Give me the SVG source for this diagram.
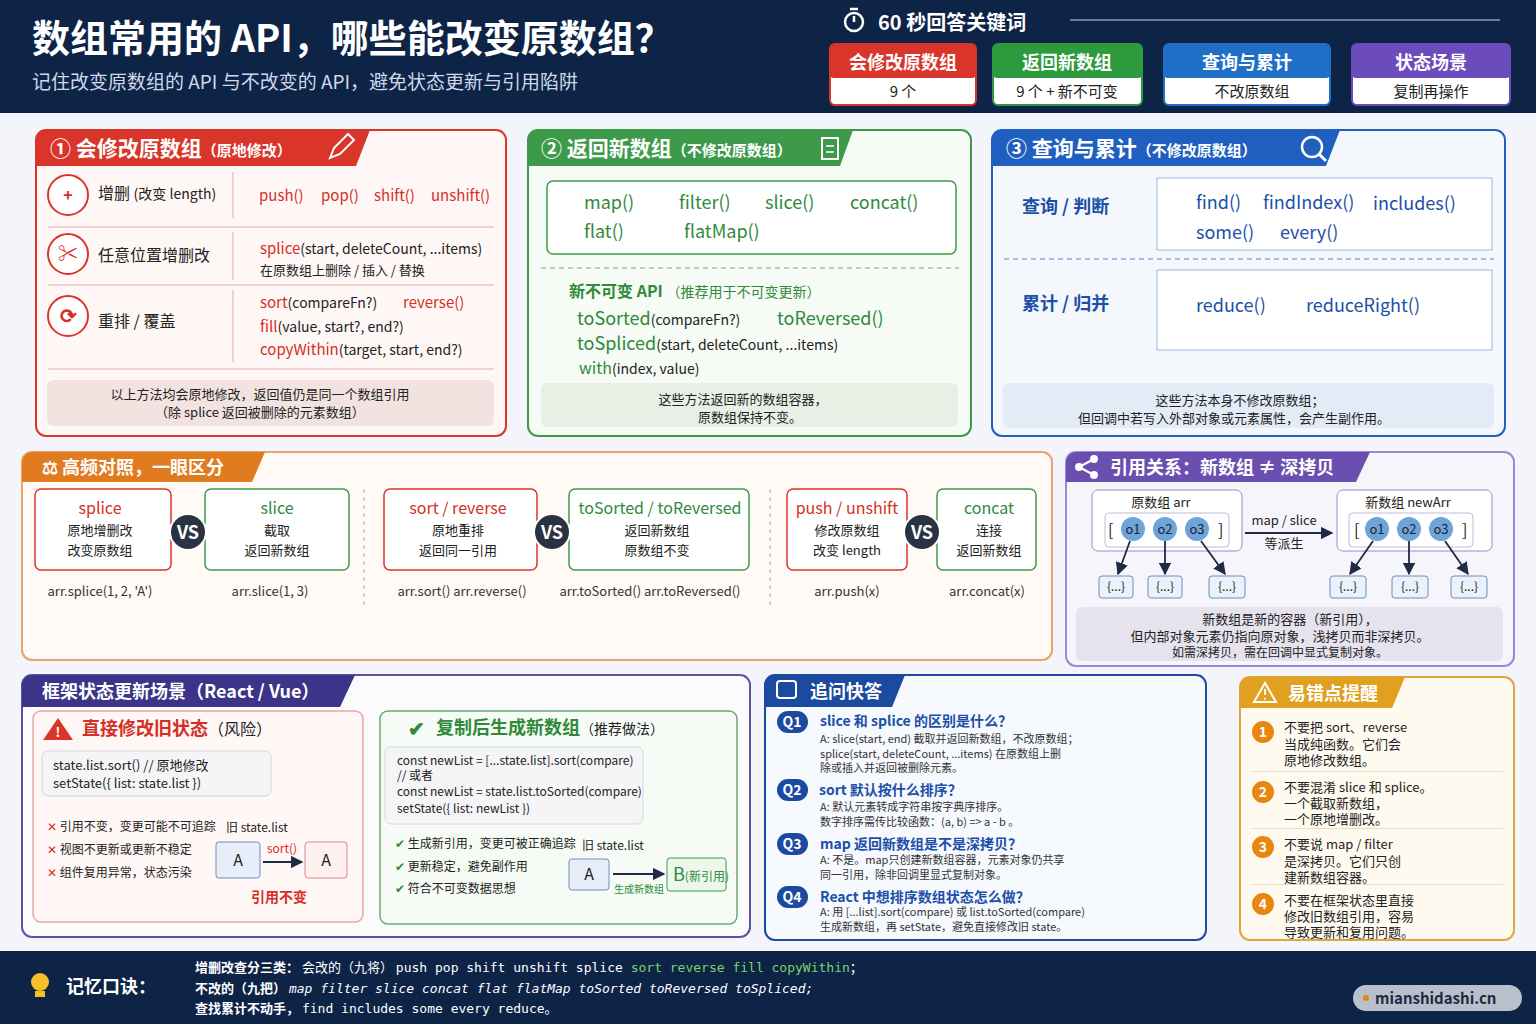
<svg xmlns="http://www.w3.org/2000/svg" width="1536" height="1024" viewBox="0 0 1536 1024">
<defs>
<style>
text{font-family:"Noto Sans CJK SC","Noto Sans",sans-serif;}
.w{fill:#fff}.b{font-weight:bold}
.r{fill:#d42f25}.g{fill:#2f8a3a}.bl{fill:#1c4fa8}.k{fill:#222}.dk{fill:#333}
.m{font-family:"DejaVu Sans Mono","Noto Sans CJK SC",monospace}
.s12{font-size:12px}.s13{font-size:13px}.s14{font-size:14px}.s15{font-size:15px}.s16{font-size:16px}.s18{font-size:18px}.s20{font-size:20px}
.mid{text-anchor:middle}
.note{fill:#f3e3e0}
</style>
<marker id="ar" viewBox="0 0 10 10" refX="9" refY="5" markerWidth="7" markerHeight="7" orient="auto"><path d="M0,0L10,5L0,10z" fill="#1f2a44"/></marker>
</defs>
<rect width="1536" height="1024" fill="#f3f5fa"/>
<g id="header">
<rect width="1536" height="113" fill="#0e2447"/>
<text x="32" y="52" class="w b" font-size="38">数组常用的 API，哪些能改变原数组？</text>
<text x="32" y="89" font-size="19" fill="#cfd8ea">记住改变原数组的 API 与不改变的 API，避免状态更新与引用陷阱</text>
<circle cx="854" cy="22" r="9" fill="none" stroke="#fff" stroke-width="2.5"/><path d="M854,22V16M850,9h8" stroke="#fff" stroke-width="2.5"/>
<text x="878" y="30" class="w b s20">60 秒回答关键词</text>
<line x1="1070" y1="20" x2="1500" y2="20" stroke="#6a7d9c" stroke-width="2"/>
<rect x="830" y="44" width="146" height="61" rx="5" fill="#fff" stroke="#d9352b" stroke-width="2"/><rect x="830" y="44" width="146" height="34" rx="4" fill="#d9352b"/>
<text x="903" y="69" class="w b s18 mid">会修改原数组</text><text x="903" y="97" class="k s15 mid">9 个</text>
<rect x="993" y="44" width="149" height="61" rx="5" fill="#fff" stroke="#2e9a3e" stroke-width="2"/><rect x="993" y="44" width="149" height="34" rx="4" fill="#2e9a3e"/>
<text x="1067" y="69" class="w b s18 mid">返回新数组</text><text x="1067" y="97" class="k s15 mid">9 个 + 新不可变</text>
<rect x="1164" y="44" width="166" height="61" rx="5" fill="#fff" stroke="#1f6fc6" stroke-width="2"/><rect x="1164" y="44" width="166" height="34" rx="4" fill="#1f6fc6"/>
<text x="1247" y="69" class="w b s18 mid">查询与累计</text><text x="1252" y="97" class="k s15 mid">不改原数组</text>
<rect x="1352" y="44" width="158" height="61" rx="5" fill="#fff" stroke="#6c4bbd" stroke-width="2"/><rect x="1352" y="44" width="158" height="34" rx="4" fill="#6c4bbd"/>
<text x="1431" y="69" class="w b s18 mid">状态场景</text><text x="1431" y="97" class="k s15 mid">复制再操作</text>
</g>
<g id="p1">
<rect x="36" y="130" width="470" height="306" rx="10" fill="#fff7f6" stroke="#d9352b" stroke-width="2"/>
<path d="M36,140a10,10 0 0 1 10,-10H370L356,166H36z" fill="#d9352b"/>
<text x="50" y="156" class="w b" font-size="21">① 会修改原数组<tspan font-size="15">（原地修改）</tspan></text>
<path d="M330,158l4,-10l14,-14l6,6l-14,14z" fill="none" stroke="#fff" stroke-width="2"/>
<circle cx="68" cy="195" r="20" fill="#fff" stroke="#d9352b" stroke-width="2"/><text x="68" y="201" class="r b s16 mid">+</text>
<text x="98" y="199" class="k s16">增删 <tspan class="s14">(改变 length)</tspan></text>
<line x1="233" y1="172" x2="233" y2="218" stroke="#e2a9a3"/>
<text x="259" y="201" class="r s15">push()</text><text x="321" y="201" class="r s15">pop()</text><text x="374" y="201" class="r s15">shift()</text><text x="431" y="201" class="r s15">unshift()</text>
<line x1="48" y1="227" x2="494" y2="227" stroke="#e2a9a3"/>
<circle cx="68" cy="254" r="20" fill="#fff" stroke="#d9352b" stroke-width="2"/><text x="68" y="261" class="r b s20 mid">✂</text>
<text x="98" y="261" class="k s16">任意位置增删改</text>
<line x1="233" y1="232" x2="233" y2="280" stroke="#e2a9a3"/>
<text x="260" y="254" class="r s15">splice<tspan class="k s14">(start, deleteCount, ...items)</tspan></text>
<text x="260" y="275" class="k s13">在原数组上删除 / 插入 / 替换</text>
<line x1="48" y1="285" x2="494" y2="285" stroke="#e2a9a3"/>
<circle cx="68" cy="316" r="20" fill="#fff" stroke="#d9352b" stroke-width="2"/><text x="68" y="323" class="r b s20 mid">⟳</text>
<text x="98" y="327" class="k s16">重排 / 覆盖</text>
<line x1="233" y1="290" x2="233" y2="362" stroke="#e2a9a3"/>
<text x="260" y="308" class="r s15">sort<tspan class="k s14">(compareFn?)</tspan></text><text x="403" y="308" class="r s15">reverse()</text>
<text x="260" y="332" class="r s15">fill<tspan class="k s14">(value, start?, end?)</tspan></text>
<text x="260" y="355" class="r s15">copyWithin<tspan class="k s14">(target, start, end?)</tspan></text>
<line x1="48" y1="369" x2="494" y2="369" stroke="#e2a9a3"/>
<rect x="47" y="380" width="447" height="46" rx="6" class="note"/>
<text x="260" y="399" class="k s13 mid">以上方法均会原地修改，返回值仍是同一个数组引用</text>
<text x="260" y="417" class="k s13 mid">（除 splice 返回被删除的元素数组）</text>
</g>
<g id="p2">
<rect x="528" y="130" width="443" height="306" rx="10" fill="#f6fbf5" stroke="#3d9a4a" stroke-width="2"/>
<path d="M528,140a10,10 0 0 1 10,-10H853L840,166H528z" fill="#3d9a4a"/>
<text x="541" y="156" class="w b" font-size="21">② 返回新数组<tspan font-size="15">（不修改原数组）</tspan></text>
<rect x="822" y="138" width="16" height="21" fill="none" stroke="#fff" stroke-width="2"/><path d="M826,146h8M826,152h8" stroke="#fff" stroke-width="1.5"/>
<rect x="547" y="181" width="409" height="73" rx="6" fill="#fff" stroke="#3d9a4a" stroke-width="1.5"/>
<g class="g s18"><text x="584" y="209">map()</text><text x="679" y="209">filter()</text><text x="765" y="209">slice()</text><text x="850" y="209">concat()</text><text x="584" y="238">flat()</text><text x="684" y="238">flatMap()</text></g>
<line x1="541" y1="268" x2="959" y2="268" stroke="#7aa67f" stroke-dasharray="5,4"/>
<text x="569" y="297" class="g b s16">新不可变 API <tspan class="s14" font-weight="normal">（推荐用于不可变更新）</tspan></text>
<text x="577" y="325" class="g s18">toSorted<tspan class="k s14">(compareFn?)</tspan></text><text x="777" y="325" class="g s18">toReversed()</text>
<text x="577" y="350" class="g s18">toSpliced<tspan class="k s14">(start, deleteCount, ...items)</tspan></text>
<text x="579" y="374" class="g s16">with<tspan class="k s14">(index, value)</tspan></text>
<rect x="541" y="383" width="417" height="44" rx="6" fill="#e8f0e6"/>
<text x="743" y="404" class="k s13 mid">这些方法返回新的数组容器，</text><text x="750" y="422" class="k s13 mid">原数组保持不变。</text>
</g>
<g id="p3">
<rect x="992" y="130" width="513" height="306" rx="10" fill="#f4f8fd" stroke="#1f5fbf" stroke-width="2"/>
<path d="M992,140a10,10 0 0 1 10,-10H1340L1326,166H992z" fill="#1f5fbf"/>
<text x="1006" y="156" class="w b" font-size="21">③ 查询与累计<tspan font-size="15">（不修改原数组）</tspan></text>
<circle cx="1312" cy="147" r="10" fill="none" stroke="#fff" stroke-width="2.5"/><path d="M1319,154l7,7" stroke="#fff" stroke-width="3"/>
<text x="1022" y="213" class="bl b s18">查询 / 判断</text>
<path d="M1157,178h335v72H1157z" fill="#fff" stroke="#9ab5de"/>
<g class="bl s18"><text x="1196" y="209">find()</text><text x="1263" y="209">findIndex()</text><text x="1373" y="210">includes()</text><text x="1196" y="239">some()</text><text x="1280" y="239">every()</text></g>
<line x1="1004" y1="259" x2="1494" y2="259" stroke="#5f84c4" stroke-dasharray="5,4"/>
<text x="1022" y="310" class="bl b s18">累计 / 归并</text>
<path d="M1157,270h335v80H1157z" fill="#fff" stroke="#9ab5de"/>
<text x="1196" y="312" class="bl s18">reduce()</text><text x="1306" y="312" class="bl s18">reduceRight()</text>
<rect x="1003" y="383" width="491" height="45" rx="6" fill="#e3ebf6"/>
<text x="1240" y="405" class="k s13 mid">这些方法本身不修改原数组；</text><text x="1234" y="423" class="k s13 mid">但回调中若写入外部对象或元素属性，会产生副作用。</text>
</g>
<g id="p4">
<rect x="22" y="452" width="1030" height="208" rx="10" fill="#fffaf5" stroke="#e6a46a" stroke-width="2"/>
<path d="M22,462a10,10 0 0 1 10,-10H265L252,482H22z" fill="#e07b20"/>
<text x="42" y="474" class="w b s18">⚖ 高频对照，一眼区分</text>
<rect x="35" y="489" width="136" height="81" rx="6" fill="#fff" stroke="#d9352b" stroke-width="1.5"/>
<text x="100" y="514" class="r s16 mid">splice</text><text x="100" y="535" class="k s13 mid">原地增删改</text><text x="100" y="555" class="k s13 mid">改变原数组</text>
<rect x="205" y="489" width="144" height="81" rx="6" fill="#fff" stroke="#3d9a4a" stroke-width="1.5"/>
<text x="277" y="514" class="g s16 mid">slice</text><text x="277" y="535" class="k s13 mid">截取</text><text x="277" y="555" class="k s13 mid">返回新数组</text>
<circle cx="188" cy="532" r="18" fill="#2a3344" stroke="#fff" stroke-width="2"/><text x="188" y="539" class="w b s18 mid">VS</text>
<text x="100" y="596" class="dk s13 mid">arr.splice(1, 2, 'A')</text><text x="270" y="596" class="dk s13 mid">arr.slice(1, 3)</text>
<line x1="364" y1="489" x2="364" y2="605" stroke="#aaa" stroke-dasharray="4,4"/>
<rect x="384" y="489" width="153" height="81" rx="6" fill="#fff" stroke="#d9352b" stroke-width="1.5"/>
<text x="458" y="514" class="r s16 mid">sort / reverse</text><text x="458" y="535" class="k s13 mid">原地重排</text><text x="458" y="555" class="k s13 mid">返回同一引用</text>
<rect x="569" y="489" width="180" height="81" rx="6" fill="#fff" stroke="#3d9a4a" stroke-width="1.5"/>
<text x="660" y="514" class="g s16 mid">toSorted / toReversed</text><text x="657" y="535" class="k s13 mid">返回新数组</text><text x="657" y="555" class="k s13 mid">原数组不变</text>
<circle cx="552" cy="532" r="18" fill="#2a3344" stroke="#fff" stroke-width="2"/><text x="552" y="539" class="w b s18 mid">VS</text>
<text x="462" y="596" class="dk s13 mid">arr.sort()    arr.reverse()</text><text x="650" y="596" class="dk s13 mid">arr.toSorted()   arr.toReversed()</text>
<line x1="770" y1="489" x2="770" y2="605" stroke="#aaa" stroke-dasharray="4,4"/>
<rect x="787" y="489" width="120" height="81" rx="6" fill="#fff" stroke="#d9352b" stroke-width="1.5"/>
<text x="847" y="514" class="r s16 mid">push / unshift</text><text x="847" y="535" class="k s13 mid">修改原数组</text><text x="847" y="555" class="k s13 mid">改变 length</text>
<rect x="937" y="489" width="99" height="81" rx="6" fill="#fff" stroke="#3d9a4a" stroke-width="1.5"/>
<text x="989" y="514" class="g s16 mid">concat</text><text x="989" y="535" class="k s13 mid">连接</text><text x="989" y="555" class="k s13 mid">返回新数组</text>
<circle cx="922" cy="532" r="18" fill="#2a3344" stroke="#fff" stroke-width="2"/><text x="922" y="539" class="w b s18 mid">VS</text>
<text x="847" y="596" class="dk s13 mid">arr.push(x)</text><text x="987" y="596" class="dk s13 mid">arr.concat(x)</text>
</g>
<g id="p5">
<rect x="1066" y="452" width="448" height="214" rx="10" fill="#f7f5fc" stroke="#9c89cf" stroke-width="2"/>
<path d="M1066,462a10,10 0 0 1 10,-10H1370L1356,482H1066z" fill="#6b4fb0"/>
<circle cx="1079" cy="467" r="4" fill="#fff"/><circle cx="1094" cy="459" r="4" fill="#fff"/><circle cx="1094" cy="475" r="4" fill="#fff"/><path d="M1079,467L1094,459M1079,467L1094,475" stroke="#fff" stroke-width="2"/>
<text x="1110" y="474" class="w b s18">引用关系：新数组 ≠ 深拷贝</text>
<rect x="1092" y="490" width="150" height="61" rx="6" fill="#fff" stroke="#9c89cf"/>
<text x="1161" y="507" class="k s13 mid">原数组  arr</text>
<rect x="1105" y="513" width="124" height="34" rx="4" fill="#fff" stroke="#c3b8e0"/>
<rect x="1337" y="490" width="155" height="61" rx="6" fill="#fff" stroke="#9c89cf"/>
<text x="1408" y="507" class="k s13 mid">新数组  newArr</text>
<rect x="1349" y="513" width="124" height="34" rx="4" fill="#fff" stroke="#c3b8e0"/>
<g class="k s16"><text x="1108" y="536">[</text><text x="1218" y="536">]</text><text x="1354" y="536">[</text><text x="1462" y="536">]</text></g>
<g fill="#6fa3dc"><circle cx="1133" cy="529" r="12"/><circle cx="1165" cy="529" r="12"/><circle cx="1197" cy="529" r="12"/><circle cx="1377" cy="529" r="12"/><circle cx="1409" cy="529" r="12"/><circle cx="1441" cy="529" r="12"/></g>
<g class="k s13 mid"><text x="1133" y="534">o1</text><text x="1165" y="534">o2</text><text x="1197" y="534">o3</text><text x="1377" y="534">o1</text><text x="1409" y="534">o2</text><text x="1441" y="534">o3</text></g>
<g fill="#e9f1fb" stroke="#6b8fc0"><rect x="1099" y="576" width="34" height="22" rx="3"/><rect x="1148" y="576" width="34" height="22" rx="3"/><rect x="1209" y="576" width="36" height="22" rx="3"/><rect x="1330" y="576" width="36" height="22" rx="3"/><rect x="1392" y="576" width="36" height="22" rx="3"/><rect x="1451" y="576" width="36" height="22" rx="3"/></g>
<g class="k s12 mid"><text x="1116" y="591">{...}</text><text x="1165" y="591">{...}</text><text x="1227" y="591">{...}</text><text x="1348" y="591">{...}</text><text x="1410" y="591">{...}</text><text x="1469" y="591">{...}</text></g>
<text x="1284" y="525" class="k s13 mid">map / slice</text><text x="1284" y="548" class="k s13 mid">等派生</text>
<rect x="1076" y="607" width="427" height="54" rx="6" fill="#e6e3ee"/>
<text x="1290" y="624" class="k s13 mid">新数组是新的容器（新引用），</text>
<text x="1280" y="641" class="k s13 mid">但内部对象元素仍指向原对象，浅拷贝而非深拷贝。</text>
<text x="1280" y="657" class="k s12 mid">如需深拷贝，需在回调中显式复制对象。</text>
</g>
<g id="p6">
<rect x="22" y="675" width="728" height="262" rx="10" fill="#fbfbfe" stroke="#5b52a0" stroke-width="2"/>
<path d="M22,685a10,10 0 0 1 10,-10H355L340,707H22z" fill="#3b3488"/>
<text x="42" y="698" class="w b s18">框架状态更新场景（React / Vue）</text>
<rect x="33" y="711" width="330" height="211" rx="8" fill="#fff6f6" stroke="#eaa6a1" stroke-width="1.5"/>
<path d="M58,718L73,740H43z" fill="#d9352b"/><text x="58" y="737" class="w b s13 mid">!</text>
<text x="82" y="735" class="r b s18">直接修改旧状态<tspan class="k s16" font-weight="normal">（风险）</tspan></text>
<rect x="42" y="751" width="229" height="45" rx="6" fill="#f5f5f7" stroke="#d4d4da"/>
<text x="53" y="770" class="k s13">state.list.sort()   // 原地修改</text>
<text x="53" y="788" class="k s13">setState({ list: state.list })</text>
<g class="k s12"><text x="47" y="831"><tspan class="r">✕</tspan> 引用不变，变更可能不可追踪</text><text x="47" y="854"><tspan class="r">✕</tspan> 视图不更新或更新不稳定</text><text x="47" y="877"><tspan class="r">✕</tspan> 组件复用异常，状态污染</text>
<text x="226" y="832">旧 state.list</text></g>
<rect x="216" y="842" width="44" height="36" rx="3" fill="#e8eef8" stroke="#6b8fc0"/><text x="238" y="866" class="k s16 mid">A</text>
<rect x="305" y="842" width="42" height="36" rx="3" fill="#fff0f0" stroke="#e08a84"/><text x="326" y="866" class="k s16 mid">A</text>
<text x="282" y="853" class="r s12 mid">sort()</text>
<text x="279" y="902" class="r b s14 mid">引用不变</text>
<rect x="380" y="711" width="357" height="213" rx="8" fill="#f7fbf5" stroke="#6aab72" stroke-width="1.5"/>
<text x="408" y="736" class="g b s20">✔</text>
<text x="436" y="734" class="g b s18">复制后生成新数组<tspan class="k s14" font-weight="normal">（推荐做法）</tspan></text>
<rect x="385" y="747" width="258" height="77" rx="6" fill="#f5f5f7" stroke="#d4d4da"/>
<g class="k s12"><text x="397" y="765">const newList = [...state.list].sort(compare)</text><text x="397" y="780">// 或者</text><text x="397" y="796">const newList = state.list.toSorted(compare)</text><text x="397" y="813">setState({ list: newList })</text>
<text x="395" y="848"><tspan class="g">✔</tspan> 生成新引用，变更可被正确追踪</text><text x="395" y="871"><tspan class="g">✔</tspan> 更新稳定，避免副作用</text><text x="395" y="893"><tspan class="g">✔</tspan> 符合不可变数据思想</text>
<text x="582" y="850">旧 state.list</text></g>
<rect x="569" y="859" width="40" height="31" rx="3" fill="#e8eef8" stroke="#6b8fc0"/><text x="589" y="880" class="k s16 mid">A</text>
<rect x="667" y="858" width="59" height="33" rx="3" fill="#eef7ec" stroke="#3d9a4a"/><text x="673" y="881" class="g s18">B<tspan class="s12">(新引用)</tspan></text>
<text x="614" y="893" class="g" font-size="10">生成新数组</text>
</g>
<g id="p7">
<rect x="765" y="675" width="441" height="265" rx="10" fill="#f6f9fe" stroke="#1b4aa0" stroke-width="2"/>
<path d="M765,685a10,10 0 0 1 10,-10H905L892,707H765z" fill="#1b4aa0"/>
<rect x="777" y="681" width="19" height="17" rx="3" fill="none" stroke="#fff" stroke-width="2"/>
<text x="810" y="698" class="w b s18">追问快答</text>
<g class="w b s14 mid"><rect x="777" y="711" width="31" height="22" rx="11" fill="#1b4aa0"/><text x="792" y="727">Q1</text>
<rect x="777" y="779" width="31" height="22" rx="11" fill="#1b4aa0"/><text x="792" y="795">Q2</text>
<rect x="777" y="833" width="31" height="22" rx="11" fill="#1b4aa0"/><text x="792" y="849">Q3</text>
<rect x="777" y="886" width="31" height="22" rx="11" fill="#1b4aa0"/><text x="792" y="902">Q4</text></g>
<g class="bl b s14"><text x="820" y="726">slice 和 splice 的区别是什么？</text><text x="819" y="795">sort 默认按什么排序？</text><text x="820" y="849">map 返回新数组是不是深拷贝？</text><text x="820" y="902">React 中想排序数组状态怎么做？</text></g>
<g class="dk" font-size="11"><text x="820" y="743">A: slice(start, end) 截取并返回新数组，不改原数组；</text><text x="820" y="758">splice(start, deleteCount, ...items) 在原数组上删</text><text x="820" y="772">除或插入并返回被删除元素。</text>
<text x="820" y="811">A: 默认元素转成字符串按字典序排序。</text><text x="820" y="826">数字排序需传比较函数：(a, b) =&gt; a - b 。</text>
<text x="820" y="864">A: 不是。map只创建新数组容器，元素对象仍共享</text><text x="820" y="879">同一引用，除非回调里显式复制对象。</text>
<text x="820" y="916">A: 用 [...list].sort(compare) 或 list.toSorted(compare)</text><text x="820" y="931">生成新数组，再 setState，避免直接修改旧 state。</text></g>
</g>
<g id="p8">
<rect x="1240" y="677" width="274" height="263" rx="10" fill="#fffaf0" stroke="#e0a63a" stroke-width="2"/>
<path d="M1240,687a10,10 0 0 1 10,-10H1405L1392,708H1240z" fill="#e0a020"/>
<path d="M1265,683L1276,702H1254z" fill="none" stroke="#fff" stroke-width="2"/><path d="M1265,689v6M1265,698v1.5" stroke="#fff" stroke-width="2"/>
<text x="1288" y="700" class="w b s18">易错点提醒</text>
<g fill="#e8860f"><circle cx="1263" cy="732" r="11"/><circle cx="1263" cy="792" r="11"/><circle cx="1263" cy="847" r="11"/><circle cx="1263" cy="904" r="11"/></g>
<g class="w b s14 mid"><text x="1263" y="737">1</text><text x="1263" y="797">2</text><text x="1263" y="852">3</text><text x="1263" y="909">4</text></g>
<g fill="#e8dcc6"><rect x="1251" y="771" width="252" height="1"/><rect x="1251" y="828" width="252" height="1"/><rect x="1251" y="884" width="252" height="1"/></g>
<g class="k s13"><text x="1284" y="732">不要把 sort、reverse</text><text x="1284" y="749">当成纯函数。它们会</text><text x="1284" y="765">原地修改数组。</text>
<text x="1284" y="792">不要混淆 slice 和 splice。</text><text x="1284" y="808">一个截取新数组，</text><text x="1284" y="824">一个原地增删改。</text>
<text x="1284" y="849">不要说 map / filter</text><text x="1284" y="866">是深拷贝。它们只创</text><text x="1284" y="882">建新数组容器。</text>
<text x="1284" y="905">不要在框架状态里直接</text><text x="1284" y="921">修改旧数组引用，容易</text><text x="1284" y="937">导致更新和复用问题。</text></g>
</g>
<g id="connectors" stroke="#1f2a44" stroke-width="1.8" fill="none" marker-end="url(#ar)">
<line x1="1245" y1="533" x2="1332" y2="533"/>
<line x1="1130" y1="541" x2="1118" y2="574"/><line x1="1165" y1="541" x2="1165" y2="574"/><line x1="1201" y1="541" x2="1225" y2="574"/>
<line x1="1373" y1="541" x2="1350" y2="574"/><line x1="1409" y1="541" x2="1409" y2="574"/><line x1="1445" y1="541" x2="1468" y2="574"/>
<line x1="263" y1="862" x2="302" y2="862"/>
<line x1="613" y1="874" x2="664" y2="874"/>
</g>
<g id="footer">
<rect x="0" y="951" width="1536" height="73" fill="#0e2447"/>
<circle cx="40" cy="982" r="9" fill="#f5c12a"/><rect x="35" y="991" width="10" height="6" fill="#f5c12a"/>
<text x="66" y="993" class="w b s18">记忆口诀：</text>
<g class="w s13"><text x="195" y="972"><tspan class="b">增删改查分三类：</tspan> 会改的（九将） <tspan class="m">push pop shift unshift splice </tspan><tspan class="m" fill="#7cd36b">sort reverse fill copyWithin</tspan>；</text>
<text x="195" y="993"><tspan class="b">不改的（九把）</tspan>   <tspan class="m" font-style="italic">map filter slice concat flat flatMap toSorted toReversed toSpliced;</tspan></text>
<text x="195" y="1013"><tspan class="b">查找累计不动手，</tspan> <tspan class="m">find includes some every reduce。</tspan></text></g>
<rect x="1353" y="985" width="169" height="26" rx="13" fill="#b9c0cc"/><circle cx="1366" cy="998" r="3" fill="#e8860f"/>
<text x="1375" y="1004" font-size="15" fill="#1f2a44" font-weight="bold">mianshidashi.cn</text>
</g>
</svg>
